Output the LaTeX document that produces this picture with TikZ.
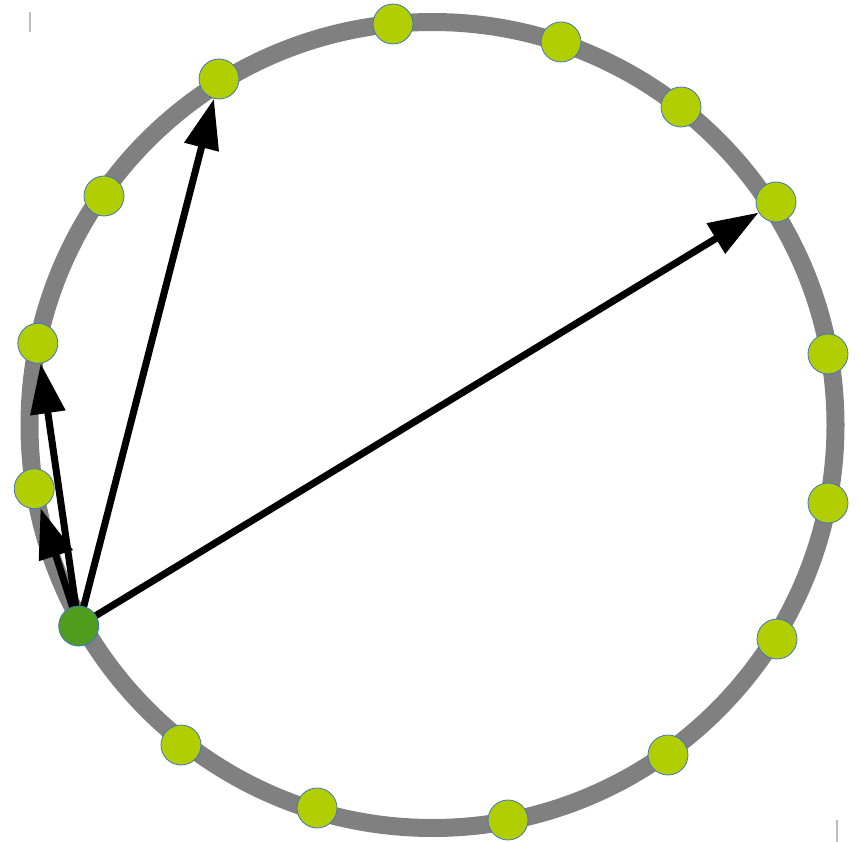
\documentclass[tikz,border=0pt]{standalone}
\usetikzlibrary{arrows.meta}
\definecolor{ringgray}{RGB}{128,128,128}
\definecolor{limegrn}{RGB}{176,206,0}
\definecolor{darkgrn}{RGB}{80,156,30}
\definecolor{edgeblue}{RGB}{68,114,196}
\definecolor{markgray}{RGB}{190,190,190}
\pgfdeclarelayer{back}
\pgfdeclarelayer{mid}
\pgfsetlayers{back,mid,main}
\tikzset{
  dot/.style={circle, minimum size=40pt, inner sep=0pt, draw=edgeblue, line width=0.8pt, fill=limegrn},
  startdot/.style={dot, fill=darkgrn},
  arr/.style={line width=7pt, black, -{Triangle[length=50pt,width=34pt]}},
  ring/.style={ringgray, line width=18pt},
  cropmark/.style={markgray, line width=1.5pt}
}
\begin{document}
\begin{tikzpicture}[x=1pt,y=-1pt]
\useasboundingbox (0,0) rectangle (859,842);
\node[dot] (n1) at (393,24) {};
\node[dot] (n2) at (561,42) {};
\node[dot] (n3) at (681,107) {};
\node[dot] (n4) at (776,202) {};
\node[dot] (n5) at (828,354) {};
\node[dot] (n6) at (828,503) {};
\node[dot] (n7) at (777,639) {};
\node[dot] (n8) at (668,755) {};
\node[dot] (n9) at (508,820) {};
\node[dot] (n10) at (317,808) {};
\node[dot] (n11) at (181,745) {};
\node[startdot] (g) at (78.7,626) {};
\node[dot] (n13) at (34.2,488.7) {};
\node[dot] (n14) at (37.8,343.3) {};
\node[dot] (n15) at (104,196) {};
\node[dot] (n16) at (219,79) {};
\begin{pgfonlayer}{back}
  \draw[ring] (432.5,425) circle [radius=403pt];
  \draw[cropmark] (30,12) -- (30,32);
  \draw[cropmark] (837,820) -- (837,842);
\end{pgfonlayer}
\begin{pgfonlayer}{mid}
  \draw[arr] (g.center) -- (n16);
  \draw[arr] (g.center) -- (n4);
  \draw[arr] (g.center) -- (n14);
  \draw[arr] (g.center) -- (n13);
\end{pgfonlayer}
\end{tikzpicture}
\end{document}
